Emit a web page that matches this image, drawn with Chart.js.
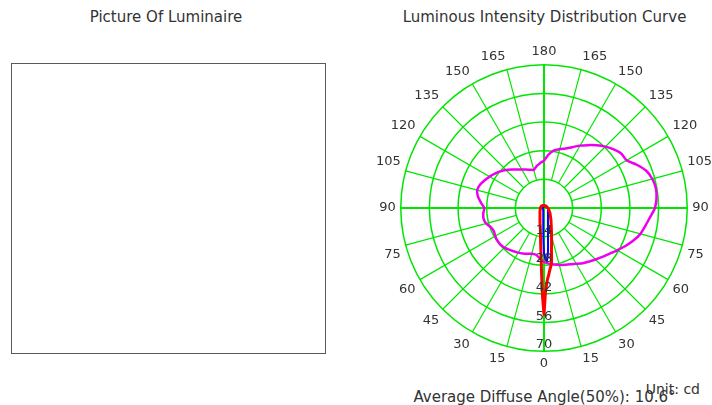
<!DOCTYPE html>
<html>
<head>
<meta charset="utf-8">
<script src="https://cdn.jsdelivr.net/npm/chart.js@4.4.1/dist/chart.umd.min.js"></script>
<style>
  html, body { margin: 0; padding: 0; background: #fff; overflow: hidden; width: 712px; height: 405px; }
  body { position: relative; font-family: "DejaVu Sans", Verdana, sans-serif; color: #333; }
  .t { position: absolute; white-space: nowrap; }
  #picTitle { left: 0; width: 332px; top: 9px; text-align: center; font-size: 15px; line-height: 17px; }
  #picBox { position: absolute; left: 11px; top: 63px; width: 313px; height: 289px; border: 1px solid #5a5a5a; }
  #curveTitle { left: 376px; width: 337px; top: 9px; text-align: center; font-size: 15px; line-height: 17px; }
  #wrap { position: absolute; left: 376px; top: 40px; width: 337px; height: 337px; }
  #avg { left: 376px; width: 337px; top: 389px; text-align: center; font-size: 15px; line-height: 17px; }
  #unit { right: 12px; top: 381px; font-size: 14px; line-height: 16px; }
</style>
</head>
<body>
<div class="t" id="picTitle">Picture Of Luminaire</div>
<div id="picBox"></div>
<div class="t" id="curveTitle">Luminous Intensity Distribution Curve</div>
<div id="wrap"><canvas id="c" width="337" height="337"></canvas></div>
<div class="t" id="avg">Average Diffuse Angle(50%): 10.6°</div>
<div class="t" id="unit">Unit: cd</div>
<script>
// Gamma angles in degrees: 0 = straight down, 180 = straight up.
// 0..180 runs up the left half, 180..360 comes back down the right half.
const magentaAngles = [0, 5, 10, 15, 20, 25, 30, 35, 40, 45, 50, 55, 60, 65, 70, 75, 80, 85,
  90, 95, 100, 105, 110, 115, 120, 125, 130, 135, 140, 145, 150, 155, 160, 165, 170, 175,
  180, 185, 190, 195, 200, 205, 210, 215, 220, 225, 230, 235, 240, 245, 250, 255, 260, 265,
  270, 275, 280, 285, 290, 295, 300, 305, 310, 315, 320, 325, 330, 335, 340, 345, 350, 355];
const magentaValues = [26.4, 24.5, 23.2, 23.2, 23.8, 24.5, 25.2, 25.8, 26.6, 27.4, 27.8, 27.8, 27.5, 27.0, 27.6, 29.3, 30.0, 29.8,
  29.2, 31.0, 32.8, 33.8, 33.3, 32.0, 30.7, 29.3, 27.8, 26.3, 24.6, 23.0, 21.7, 20.7, 19.9, 19.3, 20.8, 22.0,
  23.2, 26.3, 28.6, 29.8, 31.0, 32.8, 35.2, 37.5, 40.0, 42.4, 44.5, 46.2, 46.6, 50.0, 53.2, 54.8, 55.5, 55.2,
  54.2, 52.0, 50.3, 48.8, 46.5, 43.9, 41.3, 39.0, 37.2, 35.6, 34.2, 33.0, 31.5, 30.3, 29.5, 28.8, 28.0, 27.3];

const redAngles = [0, 1, 2, 3, 4, 5, 6, 8, 10, 14, 20, 30, 45, 60, 90, 120, 150, 180,
  225, 270, 290, 310, 320, 330, 335, 340, 343, 346, 348, 350, 351, 352, 353, 354, 355, 356, 357, 358, 359];
const redValues = [52, 43, 33, 26, 21.5, 18.5, 16, 12.5, 10.3, 8, 5.8, 3.9, 2.8, 2.2, 1.8, 1.6, 1.4, 1.2,
  1.4, 1.9, 2.5, 3.8, 4.8, 6.8, 8.2, 10.5, 12.5, 15.2, 17.8, 21, 23.5, 26.5, 28.3, 29.5, 31, 32.8, 34.5, 37, 41];

const blueAngles = [0, 1, 2, 3, 5, 8, 15, 30, 90, 150, 180, 225, 270, 290, 315, 330, 338, 343,
  347, 350, 352, 354, 355, 356, 357, 358, 359];
const blueValues = [22, 16, 10, 7, 4.2, 2.6, 1.4, 0.9, 0.6, 0.6, 0.7, 1.2, 1.9, 2.1, 2.7, 3.9, 5.2, 6.6,
  8.6, 11.2, 14, 19, 22, 24.5, 26, 25.5, 24];

const radialTicks = [14, 28, 42, 56, 70];
const angleTicks = [0, 15, 30, 45, 60, 75, 90, 105, 120, 135, 150, 165,
  180, 195, 210, 225, 240, 255, 270, 285, 300, 315, 330, 345];
const angleTickText = ['0', '15', '30', '45', '60', '75', '90', '105', '120', '135', '150', '165',
  '180', '165', '150', '135', '120', '105', '90', '75', '60', '45', '30', '15'];
const mainAxes = [0, 90, 180, 270];

const GRID = '#00e600';
const FONT = '"DejaVu Sans", Verdana, sans-serif';

// one radar slot per degree; only the 15° ones carry a label
const degrees = [];
for (let d = 0; d < 360; d++) degrees.push(d);

function ring(angles, values) {
  const out = new Array(360).fill(null);
  angles.forEach((a, i) => { out[a % 360] = values[i]; });
  return out;
}

// spokes run from the first ring outwards; the four main axes cross the centre.
// Intensity values are written down the 0° spoke on top of the curves.
const polarFrame = {
  id: 'polarFrame',
  beforeDatasetsDraw(chart) {
    const s = chart.scales.r, ctx = chart.ctx;
    ctx.save();
    ctx.strokeStyle = GRID;
    angleTicks.forEach(a => {
      const main = mainAxes.includes(a);
      const p = main ? { x: s.xCenter, y: s.yCenter } : s.getPointPositionForValue(a, radialTicks[0]);
      const q = s.getPointPositionForValue(a, s.max);
      ctx.lineWidth = main ? 2 : 1.2;
      ctx.beginPath();
      ctx.moveTo(p.x, p.y);
      ctx.lineTo(q.x, q.y);
      ctx.stroke();
    });
    ctx.restore();
  },
  afterDatasetsDraw(chart) {
    const s = chart.scales.r, ctx = chart.ctx;
    ctx.save();
    ctx.font = '13px ' + FONT;
    ctx.fillStyle = '#333';
    ctx.textAlign = 'center';
    ctx.textBaseline = 'alphabetic';
    radialTicks.forEach(v => {
      const p = s.getPointPositionForValue(0, v);
      ctx.fillText(String(v), p.x, p.y - 3);
    });
    ctx.restore();
  }
};

new Chart(document.getElementById('c'), {
  type: 'radar',
  data: {
    labels: degrees,
    datasets: [
      { label: 'C0/180', data: ring(redAngles, redValues), borderColor: '#ff0000', borderWidth: 3, fill: false, tension: 0, spanGaps: true },
      { label: 'C90/270', data: ring(blueAngles, blueValues), borderColor: '#0000ff', borderWidth: 2, fill: false, tension: 0, spanGaps: true },
      { label: 'C45', data: ring(magentaAngles, magentaValues), borderColor: '#ee00ee', borderWidth: 2.5, fill: false, tension: 0.25, spanGaps: true }
    ]
  },
  options: {
    responsive: false,
    animation: false,
    devicePixelRatio: 1,
    elements: {
      point: { radius: 0, hitRadius: 0, hoverRadius: 0 },
      line: { borderJoinStyle: 'round', borderCapStyle: 'round' }
    },
    plugins: { legend: { display: false }, tooltip: { enabled: false } },
    scales: {
      r: {
        min: 0,
        max: 70,
        startAngle: 180,
        ticks: { stepSize: 14, display: false },
        grid: { circular: true, color: GRID, lineWidth: 1.5 },
        angleLines: { display: false },
        pointLabels: {
          font: { family: FONT, size: 13 },
          color: '#333',
          padding: 5,
          callback: (label, i) => (i % 15 === 0 ? angleTickText[i / 15] : '')
        }
      }
    }
  },
  plugins: [polarFrame]
});
</script>
</body>
</html>
